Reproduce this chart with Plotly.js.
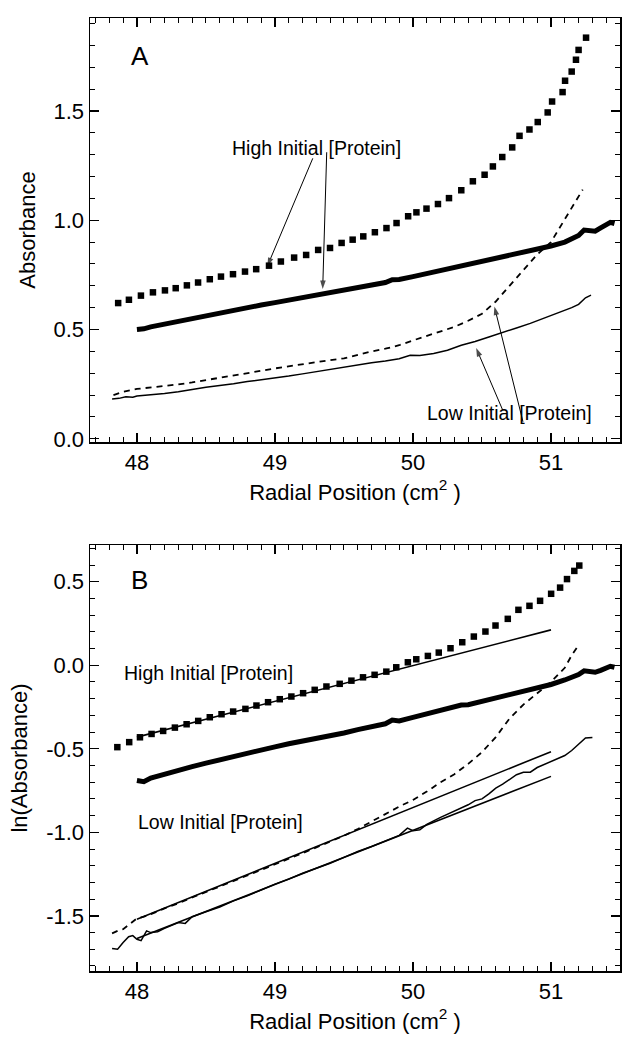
<!DOCTYPE html>
<html><head><meta charset="utf-8">
<script src="https://cdn.plot.ly/plotly-3.0.1.min.js"></script>
<style>html,body{margin:0;padding:0;background:#fff}</style>
</head><body><div id="chart" style="width:629px;height:1037px"></div>
<script>
// ---- Panel A: Absorbance ----
const aHighSqX = [47.864,47.942,48.029,48.116,48.203,48.281,48.362,48.443,48.528,48.609,48.696,48.783,48.864,48.957,49.043,49.139,49.226,49.313,49.399,49.483,49.563,49.640,49.724,49.808,49.881,49.965,50.025,50.098,50.181,50.261,50.350,50.434,50.519,50.579,50.647,50.719,50.772,50.844,50.904,50.976,51.008,51.084,51.102,51.150,51.181,51.200,51.254];
const aHighSqY = [0.621,0.636,0.655,0.670,0.679,0.689,0.702,0.715,0.730,0.742,0.753,0.765,0.776,0.792,0.811,0.829,0.841,0.864,0.873,0.896,0.911,0.926,0.945,0.964,0.987,1.018,1.036,1.053,1.074,1.101,1.137,1.178,1.208,1.246,1.289,1.333,1.386,1.415,1.449,1.493,1.543,1.586,1.638,1.680,1.734,1.779,1.835];
const aThickX = [48.00,48.05,48.10,48.20,48.30,48.40,48.50,48.60,48.70,48.80,48.90,49.00,49.10,49.20,49.30,49.40,49.50,49.60,49.70,49.80,49.85,49.90,50.00,50.10,50.20,50.30,50.35,50.40,50.50,50.60,50.70,50.80,50.90,51.00,51.10,51.15,51.20,51.24,51.28,51.32,51.36,51.40,51.43,51.46];
const aThickY = [0.500,0.503,0.512,0.525,0.537,0.550,0.563,0.577,0.590,0.602,0.612,0.623,0.635,0.646,0.657,0.668,0.680,0.692,0.703,0.715,0.728,0.729,0.742,0.756,0.772,0.783,0.792,0.796,0.811,0.824,0.839,0.853,0.867,0.882,0.900,0.912,0.930,0.955,0.955,0.950,0.965,0.978,0.990,0.985];
const aDashX = [47.83,47.90,48.00,48.10,48.20,48.30,48.40,48.50,48.60,48.70,48.80,48.90,49.00,49.10,49.20,49.30,49.40,49.50,49.60,49.70,49.80,49.90,50.00,50.10,50.20,50.30,50.40,50.50,50.60,50.70,50.80,50.90,51.00,51.10,51.20,51.23];
const aDashY = [0.200,0.215,0.228,0.234,0.240,0.249,0.258,0.268,0.278,0.290,0.300,0.311,0.322,0.332,0.342,0.352,0.360,0.368,0.385,0.400,0.412,0.428,0.450,0.470,0.490,0.512,0.540,0.572,0.628,0.698,0.770,0.843,0.900,1.005,1.115,1.140];
const aLowX = [47.82,47.87,47.92,47.97,48.00,48.10,48.20,48.30,48.35,48.40,48.50,48.60,48.70,48.80,48.90,49.00,49.10,49.20,49.30,49.40,49.50,49.60,49.70,49.80,49.90,49.98,50.05,50.15,50.25,50.35,50.45,50.55,50.65,50.75,50.85,50.95,51.05,51.15,51.20,51.25,51.29];
const aLowY = [0.182,0.185,0.192,0.190,0.196,0.200,0.207,0.215,0.222,0.226,0.236,0.243,0.252,0.262,0.270,0.277,0.287,0.297,0.307,0.318,0.330,0.340,0.348,0.356,0.366,0.382,0.381,0.390,0.405,0.428,0.445,0.466,0.488,0.507,0.528,0.552,0.575,0.600,0.615,0.645,0.657];
// pointer arrows of panel A (tail -> tip)
const arrowTailX = [49.274, 49.375, 50.651, 50.797];
const arrowTailY = [1.283, 1.311, 0.130, 0.078];
const arrowTipX = [48.945, 49.346, 50.458, 50.590];
const arrowTipY = [0.79, 0.685, 0.415, 0.605];

// ---- Panel B: ln(Absorbance) ----
const bHighSqX = [47.858,47.944,48.022,48.106,48.19,48.275,48.360,48.444,48.528,48.613,48.697,48.786,48.866,48.950,49.035,49.119,49.204,49.288,49.373,49.469,49.554,49.638,49.722,49.807,49.879,49.963,50.024,50.108,50.187,50.272,50.357,50.441,50.525,50.598,50.687,50.764,50.844,50.921,51.001,51.066,51.116,51.169,51.205];
const bHighSqY = [-0.49,-0.46,-0.431,-0.411,-0.393,-0.373,-0.353,-0.333,-0.311,-0.293,-0.277,-0.261,-0.241,-0.221,-0.203,-0.187,-0.167,-0.147,-0.127,-0.111,-0.092,-0.072,-0.057,-0.038,-0.012,0.018,0.036,0.056,0.076,0.102,0.138,0.172,0.202,0.238,0.278,0.332,0.356,0.386,0.428,0.465,0.516,0.565,0.597];
const bThickX = [48.00,48.05,48.10,48.20,48.30,48.40,48.50,48.60,48.70,48.80,48.90,49.00,49.10,49.20,49.30,49.40,49.50,49.60,49.70,49.80,49.85,49.90,50.00,50.10,50.20,50.30,50.35,50.40,50.50,50.60,50.70,50.80,50.90,51.00,51.10,51.15,51.20,51.24,51.28,51.32,51.36,51.40,51.43,51.46];
const bThickY = [-0.690,-0.697,-0.675,-0.650,-0.628,-0.607,-0.586,-0.565,-0.545,-0.525,-0.507,-0.488,-0.470,-0.455,-0.438,-0.422,-0.405,-0.385,-0.368,-0.350,-0.328,-0.333,-0.312,-0.292,-0.270,-0.252,-0.238,-0.236,-0.216,-0.197,-0.178,-0.158,-0.138,-0.115,-0.088,-0.072,-0.055,-0.033,-0.035,-0.042,-0.030,-0.018,-0.006,-0.012];
const bDashX = [47.82,47.86,47.90,47.95,48.00,48.05,48.10,48.20,48.30,48.40,48.50,48.60,48.70,48.80,48.90,49.00,49.10,49.20,49.30,49.40,49.50,49.60,49.70,49.80,49.90,50.00,50.10,50.20,50.30,50.40,50.50,50.60,50.70,50.80,50.90,51.00,51.10,51.15,51.20];
const bDashY = [-1.605,-1.590,-1.580,-1.545,-1.515,-1.505,-1.490,-1.455,-1.425,-1.390,-1.358,-1.325,-1.290,-1.258,-1.225,-1.190,-1.158,-1.125,-1.090,-1.055,-1.020,-0.980,-0.935,-0.888,-0.846,-0.806,-0.756,-0.700,-0.652,-0.590,-0.520,-0.430,-0.318,-0.235,-0.165,-0.100,-0.015,0.060,0.120];
const bLowX = [47.82,47.86,47.90,47.94,47.97,48.00,48.03,48.07,48.10,48.15,48.20,48.30,48.35,48.40,48.50,48.60,48.70,48.80,48.90,49.00,49.10,49.20,49.30,49.40,49.50,49.60,49.70,49.80,49.90,49.96,50.00,50.05,50.10,50.20,50.30,50.40,50.45,50.50,50.55,50.60,50.65,50.70,50.75,50.80,50.85,50.90,51.00,51.10,51.15,51.20,51.25,51.30];
const bLowY = [-1.695,-1.700,-1.660,-1.625,-1.618,-1.640,-1.648,-1.590,-1.600,-1.595,-1.575,-1.540,-1.545,-1.505,-1.475,-1.447,-1.410,-1.380,-1.345,-1.310,-1.280,-1.245,-1.215,-1.185,-1.150,-1.115,-1.085,-1.050,-1.018,-0.975,-0.990,-0.985,-0.952,-0.910,-0.872,-0.835,-0.810,-0.800,-0.770,-0.735,-0.712,-0.685,-0.655,-0.640,-0.640,-0.612,-0.575,-0.540,-0.510,-0.475,-0.435,-0.432];
// linear fits in panel B
const fitX = [48.0, 51.0];
const fitHighY = [-0.43, 0.212];
const fitLowDashY = [-1.52, -0.517];
const fitLowSolidY = [-1.635, -0.665];

// tick labels
const xTickVals = [48, 49, 50, 51];
const xTickText = ['48', '49', '50', '51'];
const aTickVals = [0, 0.5, 1.0, 1.5];
const aTickText = ['0.0', '0.5', '1.0', '1.5'];
const bTickVals = [-1.5, -1.0, -0.5, 0.0, 0.5];
const bTickText = ['-1.5', '-1.0', '-0.5', '0.0', '0.5'];

const FONT = 'Liberation Sans, Arial, Helvetica, sans-serif';
const K = '#000';

function sq(x, y, xa, ya) {
  return {x: x, y: y, xaxis: xa, yaxis: ya, mode: 'markers', type: 'scatter',
    marker: {symbol: 'square', size: 6.5, color: K}, hoverinfo: 'skip', showlegend: false};
}
function ln(x, y, xa, ya, w, dash) {
  return {x: x, y: y, xaxis: xa, yaxis: ya, mode: 'lines', type: 'scatter',
    line: {color: K, width: w, dash: dash || 'solid'}, hoverinfo: 'skip', showlegend: false};
}
function arrowTrace(i) {
  return {x: [arrowTailX[i], arrowTipX[i]], y: [arrowTailY[i], arrowTipY[i]], xaxis: 'x', yaxis: 'y',
    mode: 'lines+markers', type: 'scatter', line: {color: K, width: 1},
    marker: {symbol: ['circle', 'arrow'], size: [0, 9], color: K, angleref: 'previous', line: {width: 0}},
    hoverinfo: 'skip', showlegend: false};
}

const traces = [
  sq(aHighSqX, aHighSqY, 'x', 'y'),
  ln(aThickX, aThickY, 'x', 'y', 5),
  ln(aDashX, aDashY, 'x', 'y', 1.8, '6px,5px'),
  ln(aLowX, aLowY, 'x', 'y', 1.5),
  arrowTrace(0), arrowTrace(1), arrowTrace(2), arrowTrace(3),
  sq(bHighSqX, bHighSqY, 'x2', 'y2'),
  ln(fitX, fitHighY, 'x2', 'y2', 1.6),
  ln(bThickX, bThickY, 'x2', 'y2', 5),
  ln(bDashX, bDashY, 'x2', 'y2', 1.8, '6px,5px'),
  ln(fitX, fitLowDashY, 'x2', 'y2', 1.6),
  ln(fitX, fitLowSolidY, 'x2', 'y2', 1.6),
  ln(bLowX, bLowY, 'x2', 'y2', 1.5)
];

function xAxis(anchor, title) {
  return {
    anchor: anchor, range: [47.66, 51.5], showgrid: false, zeroline: false,
    showline: true, linecolor: K, linewidth: 1.5, mirror: 'allticks',
    ticks: 'inside', ticklen: 9, tickwidth: 1.3, tickcolor: K,
    tickmode: 'array', tickvals: xTickVals, ticktext: xTickText,
    minor: {ticks: 'inside', tickmode: 'linear', tick0: 48, dtick: 0.1, ticklen: 5, tickwidth: 1, tickcolor: K, showgrid: false},
    tickfont: {family: FONT, size: 22, color: K},
    title: {text: title, font: {family: FONT, size: 22, color: K}, standoff: 10}
  };
}
function yAxis(anchor, domain, range, tv, tt, title) {
  return {
    anchor: anchor, domain: domain, range: range, showgrid: false, zeroline: false,
    showline: true, linecolor: K, linewidth: 1.5, mirror: 'allticks',
    ticks: 'inside', ticklen: 9, tickwidth: 1.3, tickcolor: K,
    tickmode: 'array', tickvals: tv, ticktext: tt,
    minor: {ticks: 'inside', tickmode: 'linear', tick0: 0, dtick: 0.1, ticklen: 5, tickwidth: 1, tickcolor: K, showgrid: false},
    tickfont: {family: FONT, size: 22, color: K},
    title: {text: title, font: {family: FONT, size: 22, color: K}, standoff: 12}
  };
}

const label = (x, y, t, xr, yr, size) => ({x: x, y: y, xref: xr, yref: yr, text: t, showarrow: false,
  font: {family: FONT, size: size, color: K}, xanchor: 'center', yanchor: 'middle'});

const layout = {
  width: 629, height: 1037,
  margin: {l: 90, r: 9, t: 18, b: 66},
  paper_bgcolor: '#fff', plot_bgcolor: '#fff',
  showlegend: false,
  xaxis: xAxis('y', 'Radial Position (cm<sup>2</sup> )'),
  yaxis: yAxis('x', [0.555, 1], [-0.015, 1.925], aTickVals, aTickText, 'Absorbance'),
  xaxis2: xAxis('y2', 'Radial Position (cm<sup>2</sup> )'),
  yaxis2: yAxis('x2', [0, 0.447], [-1.83, 0.72], bTickVals, bTickText, 'ln(Absorbance)'),
  annotations: [
    label(48.022, 1.753, 'A', 'x', 'y', 26),
    label(49.302, 1.329, 'High Initial [Protein]', 'x', 'y', 19.5),
    label(50.699, 0.119, 'Low Initial [Protein]', 'x', 'y', 19.5),
    label(48.022, 0.511, 'B', 'x2', 'y2', 26),
    label(48.521, -0.046, 'High Initial [Protein]', 'x2', 'y2', 19.5),
    label(48.608, -0.937, 'Low Initial [Protein]', 'x2', 'y2', 19.5)
  ]
};

Plotly.newPlot('chart', traces, layout, {staticPlot: true, displayModeBar: false});
</script></body></html>
